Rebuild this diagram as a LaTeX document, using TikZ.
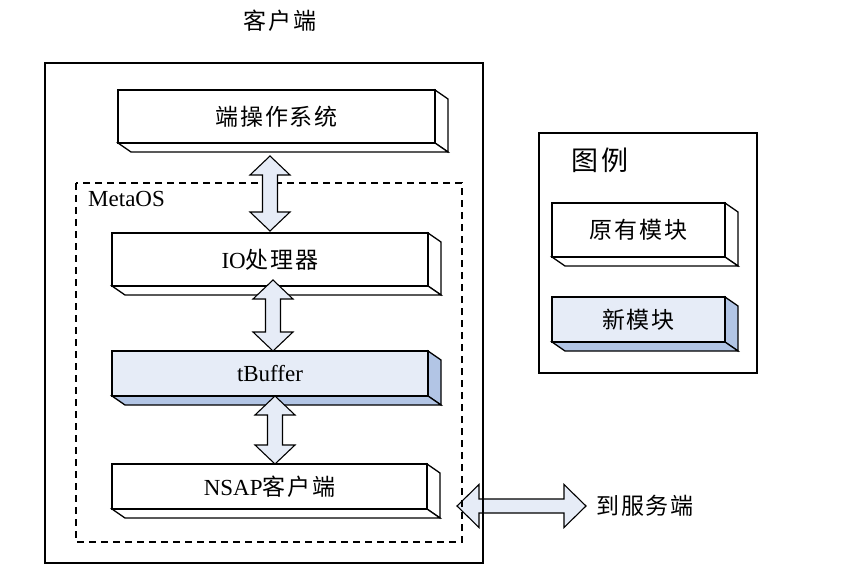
\documentclass[tikz,border=0pt]{standalone}
\usepackage{fontspec}
\setmainfont{Liberation Serif}
\newfontfamily\cjk[LetterSpace=8]{Noto Sans CJK SC}
\usetikzlibrary{calc}
\definecolor{newfront}{HTML}{E6ECF7}
\definecolor{newside}{HTML}{B2C5E5}
\definecolor{arrowfill}{HTML}{E6ECF7}
\tikzset{
  facestyle/.style={draw=black, line width=1.3pt, line join=miter},
  frontstyle/.style={draw=black, line width=1.3pt, inner sep=0pt, font=\fontsize{23}{27}\selectfont},
  arrowstyle/.style={draw=black, fill=arrowfill, line width=1.1pt, line join=miter},
  outerbox/.style={draw=black, line width=1.6pt},
  metabox/.style={draw=black, line width=1.3pt, dash pattern=on 7pt off 5pt},
  labeltext/.style={inner sep=0pt, font=\fontsize{23}{27}\selectfont},
}
% #1 name, #2 x1, #3 y1, #4 x2, #5 y2, #6 front fill, #7 side fill, #8 text
\newcommand\boxthreed[8]{%
  \filldraw[facestyle, fill=#7] (#4,#3) -- ({#4+13},{#3+9}) -- ({#4+13},{#5+9}) -- (#4,#5) -- cycle;
  \filldraw[facestyle, fill=#7] (#2,#5) -- (#4,#5) -- ({#4+13},{#5+9}) -- ({#2+13},{#5+9}) -- cycle;
  \node[frontstyle, fill=#6, minimum width={(#4-#2)*1pt}, minimum height={(#5-#3)*1pt}]
    (#1) at ({(#2+#4)/2},{(#3+#5)/2}) {#8};
}
% vertical double arrow between named coordinates #1 (top tip) and #2 (bottom tip)
\newcommand\vdarrow[2]{%
  \filldraw[arrowstyle] (#1) -- ++(20,19) -- ++(-12.5,0) -- ($(#2)+(7.5,-19)$) -- ++(12.5,0)
    -- (#2) -- ++(-20,-19) -- ++(12.5,0) -- ($(#1)+(-7.5,19)$) -- ++(-12.5,0) -- cycle;
}
\begin{document}
\begin{tikzpicture}[x=1pt,y=-1pt]
\useasboundingbox (0,0) rectangle (842,577);
% title
\node[labeltext, font=\fontsize{23}{27}\selectfont\cjk] (title) at (280,21) {客户端};
% horizontal double arrow (behind frames)
\coordinate (hl) at (457,506);
\coordinate (hr) at (586,506);
\filldraw[arrowstyle] (hl) -- ++(22,-21.5) -- ++(0,14.5) -- ($(hr)+(-22,-7)$) -- ++(0,-14.5)
  -- (hr) -- ++(-22,21.5) -- ++(0,-14.5) -- ($(hl)+(22,7)$) -- ++(0,14.5) -- cycle;
\node[labeltext, anchor=west, font=\fontsize{23}{27}\selectfont\cjk] (server) at (596,506) {到服务端};
% frames
\draw[outerbox] (45,63) rectangle (483,563);
\draw[metabox] (76,183) rectangle (462,542);
\node[labeltext, anchor=west] (metaos) at (88,199) {MetaOS};
% boxes
\boxthreed{os}{118}{90}{435}{143}{white}{white}{\cjk 端操作系统}
\boxthreed{io}{112}{233}{428}{286}{white}{white}{IO{\cjk 处理器}}
\boxthreed{tbuf}{112}{351}{428}{396}{newfront}{newside}{tBuffer}
\boxthreed{nsap}{112}{464}{427}{509}{white}{white}{NSAP{\cjk 客户端}}
% vertical arrows
\coordinate (a1t) at (270,156); \coordinate (a1b) at (270,231);
\coordinate (a2t) at (273,280); \coordinate (a2b) at (273,351);
\coordinate (a3t) at (275,396); \coordinate (a3b) at (275,464);
\vdarrow{a1t}{a1b}
\vdarrow{a2t}{a2b}
\vdarrow{a3t}{a3b}
% legend
\draw[outerbox, line width=1.3pt] (539,133) rectangle (757,373);
\node[labeltext, font=\fontsize{27}{31}\selectfont\cjk] (legendtitle) at (600,160) {图例};
\boxthreed{oldmod}{552}{203}{725}{257}{white}{white}{\cjk 原有模块}
\boxthreed{newmod}{552}{297}{725}{342}{newfront}{newside}{\cjk 新模块}
\end{tikzpicture}
\end{document}
